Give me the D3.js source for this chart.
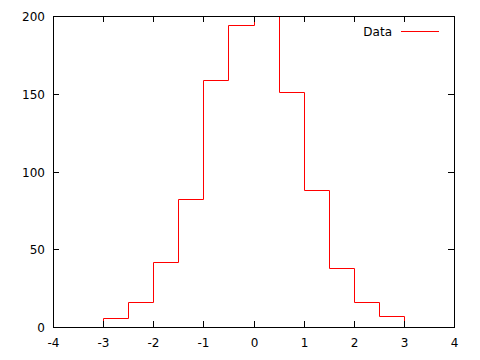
<!DOCTYPE html>
<html>
<head>
<meta charset="utf-8">
<script src="https://cdnjs.cloudflare.com/ajax/libs/d3/7.8.5/d3.min.js"></script>
<style>
  body { margin: 0; background: #fff; }
  text { font-family: "DejaVu Sans", sans-serif; font-size: 12px; fill: #000; }
</style>
</head>
<body>
<svg id="chart" width="480" height="360"></svg>
<script>
// Bin edges (left) and counts, bin width 0.5
var binStarts = [-3, -2.5, -2, -1.5, -1, -0.5, 0, 0.5, 1, 1.5, 2, 2.5];
var counts = [6, 16, 42, 82, 159, 194, 215, 151, 88, 38, 16, 7];
var binWidth = 0.5;
var xTicks = [-4, -3, -2, -1, 0, 1, 2, 3, 4];
var yTicks = [0, 50, 100, 150, 200];
var seriesName = 'Data';

var margin = { top: 16, right: 26, bottom: 33, left: 53 };
var svg = d3.select('#chart');
var width = +svg.attr('width') - margin.left - margin.right;
var height = +svg.attr('height') - margin.top - margin.bottom;

var xScale = d3.scaleLinear().domain([-4, 4]).range([0, width]);
var yScale = d3.scaleLinear().domain([0, 200]).range([height, 0]);

var plot = svg.append('g')
  .attr('transform', 'translate(' + margin.left + ',' + margin.top + ')');

plot.append('defs').append('clipPath').attr('id', 'clip')
  .append('rect').attr('width', width + 1).attr('height', height + 1);

// step outline (histeps)
var pts = [[binStarts[0], 0]];
binStarts.forEach(function (b, i) {
  pts.push([b, counts[i]]);
  pts.push([b + binWidth, counts[i]]);
});
pts.push([binStarts[binStarts.length - 1] + binWidth, 0]);

plot.append('path')
  .datum(pts)
  .attr('clip-path', 'url(#clip)')
  .attr('fill', 'none')
  .attr('stroke', '#ff0000')
  .attr('stroke-width', 1)
  .attr('d', d3.line()
    .x(function (d) { return Math.round(xScale(d[0])) + 0.5; })
    .y(function (d) { return Math.round(yScale(d[1])) + 0.5; }));

var tick = 6;

// bottom axis + mirrored ticks
var xg = plot.append('g');
xTicks.forEach(function (t) {
  var x = Math.round(xScale(t)) + 0.5;
  xg.append('line').attr('x1', x).attr('x2', x).attr('y1', height).attr('y2', height - tick).attr('stroke', '#000');
  xg.append('line').attr('x1', x).attr('x2', x).attr('y1', 0).attr('y2', tick).attr('stroke', '#000');
  xg.append('text').attr('x', x).attr('y', height + 20).attr('text-anchor', 'middle').text(t);
});

// left axis + mirrored ticks
var yg = plot.append('g');
yTicks.forEach(function (t) {
  var y = Math.round(yScale(t)) + 0.5;
  yg.append('line').attr('x1', 0).attr('x2', tick).attr('y1', y).attr('y2', y).attr('stroke', '#000');
  yg.append('line').attr('x1', width).attr('x2', width - tick).attr('y1', y).attr('y2', y).attr('stroke', '#000');
  yg.append('text').attr('x', -8).attr('y', y + 4).attr('text-anchor', 'end').text(t);
});

// border
plot.append('rect')
  .attr('x', 0.5).attr('y', 0.5)
  .attr('width', width).attr('height', height)
  .attr('fill', 'none').attr('stroke', '#000');

// legend
var legend = plot.append('g');
legend.append('text').attr('x', width - 62).attr('y', 19.5).attr('text-anchor', 'end').text(seriesName);
legend.append('line')
  .attr('x1', width - 53).attr('x2', width - 15)
  .attr('y1', 15.5).attr('y2', 15.5)
  .attr('stroke', '#ff0000');
</script>
</body>
</html>
